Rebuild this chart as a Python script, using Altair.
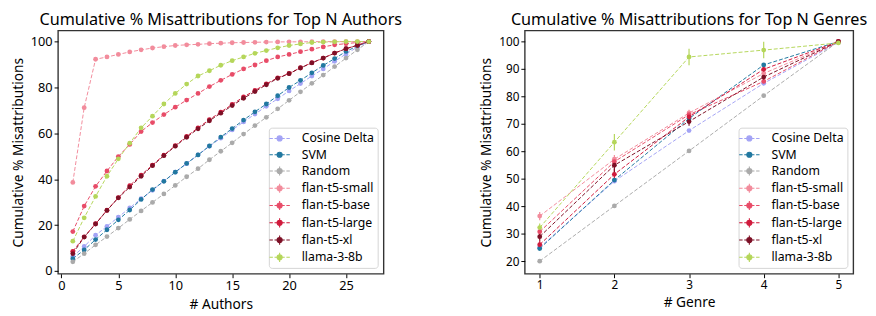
import altair as alt
import pandas as pd

models = ["Cosine Delta", "SVM", "Random", "flan-t5-small", "flan-t5-base",
          "flan-t5-large", "flan-t5-xl", "llama-3-8b"]
colors = ["#a3a3f5", "#2178a0", "#aaaaaa", "#f28c9c", "#e84c68",
          "#d01a3c", "#7d1026", "#b5d65a"]
errbar_models = ["Random", "flan-t5-small", "flan-t5-base", "flan-t5-large",
                 "flan-t5-xl", "llama-3-8b"]

authors_n = list(range(1, 28))
authors_cosine = [6.3, 10.7, 15.6, 19.5, 23.5, 27.5, 31.5, 35.2, 39.2, 43.1, 46.8, 50.6, 54.4, 57.9,
                  61.5, 65.0, 68.4, 71.8, 75.1, 78.5, 81.7, 85.0, 88.1, 91.4, 94.6, 97.6, 100.0]
authors_svm = [5.4, 9.2, 13.7, 18.0, 22.3, 26.6, 31.2, 35.5, 39.1, 43.1, 46.9, 50.6, 54.5, 58.4,
               62.1, 65.8, 69.4, 72.8, 76.4, 80.0, 83.1, 86.4, 89.6, 92.6, 95.7, 98.1, 100.0]
authors_random = [4.0, 7.6, 11.4, 15.0, 18.7, 22.5, 26.2, 29.9, 33.6, 37.3, 41.1, 44.6, 48.5, 52.2,
                  55.9, 59.7, 63.4, 67.0, 70.7, 74.4, 78.1, 81.8, 85.4, 89.1, 92.8, 96.4, 100.0]
authors_small = [38.6, 71.2, 92.3, 93.3, 94.4, 95.5, 96.4, 97.2, 97.8, 98.3, 98.6, 98.8, 99.1, 99.3,
                 99.5, 99.6, 99.7, 99.8, 99.85, 99.9, 99.9, 99.95, 100.0, 100.0, 100.0, 100.0, 100.0]
authors_base = [17.2, 28.3, 36.9, 43.6, 49.9, 55.2, 60.8, 64.7, 68.2, 71.4, 74.5, 77.4, 80.4, 83.1,
                85.7, 88.1, 89.8, 91.7, 93.3, 94.4, 95.6, 96.7, 97.7, 98.6, 99.1, 99.6, 100.0]
authors_large = [8.6, 14.9, 20.6, 26.5, 32.0, 37.2, 41.8, 46.2, 50.5, 54.6, 58.7, 62.4, 66.0, 69.3,
                 72.6, 75.9, 78.7, 81.6, 84.2, 86.1, 88.6, 90.8, 92.8, 95.0, 96.9, 98.4, 100.0]
authors_xl = [7.6, 14.8, 20.5, 26.4, 31.9, 36.6, 41.3, 45.9, 50.3, 54.4, 58.3, 62.0, 65.5, 68.8,
              72.1, 75.3, 78.2, 81.2, 84.0, 86.0, 88.5, 90.7, 92.8, 95.0, 96.9, 98.4, 100.0]
authors_llama = [13.0, 23.2, 32.5, 41.3, 48.9, 55.7, 62.4, 67.5, 72.8, 77.4, 81.5, 85.0, 87.3, 89.7,
                 91.7, 93.3, 94.9, 96.1, 97.3, 98.3, 99.0, 99.6, 99.8, 99.9, 100.0, 100.0, 100.0]

genre_n = [1, 2, 3, 4, 5]
genre_cosine = [25.1, 49.2, 67.6, 84.8, 99.7]
genre_svm = [24.7, 49.6, 72.0, 91.5, 100.0]
genre_random = [20.1, 40.2, 60.2, 80.3, 100.0]
genre_small = [36.5, 57.2, 74.0, 88.4, 100.0]
genre_base = [30.8, 56.3, 73.4, 85.5, 100.0]
genre_large = [26.1, 51.7, 72.6, 89.9, 100.0]
genre_xl = [29.0, 55.0, 70.9, 87.1, 100.0]
genre_llama = [32.3, 63.4, 94.4, 96.9, 99.5]

genre_err_cosine = [0, 0, 0, 0, 0]
genre_err_svm = [0, 0, 0, 0, 0]
genre_err_random = [0.5, 0.6, 0.6, 0.6, 0.2]
genre_err_small = [1.5, 1.5, 1.2, 1.2, 0.2]
genre_err_base = [1.2, 1.2, 1.0, 1.0, 0.2]
genre_err_large = [1.5, 2.0, 1.2, 1.2, 0.2]
genre_err_xl = [1.5, 3.0, 1.5, 1.5, 0.2]
genre_err_llama = [1.5, 3.0, 3.0, 3.0, 0.5]

authors_series = [authors_cosine, authors_svm, authors_random, authors_small,
                  authors_base, authors_large, authors_xl, authors_llama]
genre_series = [genre_cosine, genre_svm, genre_random, genre_small,
                genre_base, genre_large, genre_xl, genre_llama]
genre_errs = [genre_err_cosine, genre_err_svm, genre_err_random, genre_err_small,
              genre_err_base, genre_err_large, genre_err_xl, genre_err_llama]

rows = []
for m, vals in zip(models, authors_series):
    for n, v in zip(authors_n, vals):
        rows.append({"model": m, "n": n, "v": v})
df_a = pd.DataFrame(rows)

rows = []
for m, vals, errs in zip(models, genre_series, genre_errs):
    for n, v, e in zip(genre_n, vals, errs):
        rows.append({"model": m, "n": n, "v": v, "lo": v - e, "hi": v + e, "e": e})
df_g = pd.DataFrame(rows)

FONT = "Noto Sans"

plain = ("M-1.6,0L-1.06,0M-0.8,0L-0.26,0M0.26,0L0.8,0M1.06,0L1.6,0"
         "M0.4,0A0.4,0.4,0,1,1,-0.4,0A0.4,0.4,0,1,1,0.4,0Z")
witherr = plain + "M0,-0.72L0,0.72"
shapes = [witherr if m in errbar_models else plain for m in models]


def make_legend():
    return alt.Legend(
        title=None, orient="bottom-right", offset=6,
        fillColor="white", strokeColor="#d4d4d4", cornerRadius=3, padding=3.5,
        labelFont=FONT, labelFontSize=12.5, labelColor="black", labelOffset=15,
        symbolSize=169, symbolStrokeWidth=1.1, symbolOpacity=1, rowPadding=2.6,
    )


def panel(df, xfield_title, xdom, xticks, ydom, yticks, title, w, h, with_err, lab_fs):
    leg = make_legend()
    cscale = alt.Scale(domain=models, range=colors)
    color = alt.Color("model:N", scale=cscale, legend=leg)
    xscale = alt.Scale(domain=xdom, nice=False, zero=False)
    yscale = alt.Scale(domain=ydom, nice=False, zero=False)
    xaxis = alt.Axis(values=xticks, title=xfield_title, format="d", labelFontSize=lab_fs)
    yaxis = alt.Axis(values=yticks, title="Cumulative % Misattributions", labelFontSize=lab_fs)
    x = alt.X("n:Q", scale=xscale, axis=xaxis)
    y = alt.Y("v:Q", scale=yscale, axis=yaxis)
    base = alt.Chart(df)
    lines = base.mark_line(strokeDash=[4, 2], strokeWidth=1, clip=True).encode(
        x=x, y=y, color=color, detail="model:N")
    pts = base.mark_circle(size=24, opacity=1, clip=True).encode(
        x=x, y=y, color=color)
    ghost = base.transform_filter("datum.n < -1000").mark_point(filled=True).encode(
        x=x, y=y,
        fill=alt.Fill("model:N", scale=cscale, legend=leg),
        stroke=alt.Stroke("model:N", scale=cscale, legend=leg),
        shape=alt.Shape("model:N", scale=alt.Scale(domain=models, range=shapes), legend=leg),
    )
    layers = [lines]
    if with_err:
        err = base.transform_filter("datum.e > 0").mark_rule(strokeWidth=1.2).encode(
            x=x, y=alt.Y("lo:Q", scale=yscale, axis=yaxis), y2="hi:Q", color=color)
        layers.append(err)
    layers += [pts, ghost]
    return alt.layer(*layers).properties(
        width=w, height=h,
        title=alt.Title(title, anchor="middle", frame="group", fontSize=16.5,
                        fontWeight="normal", font=FONT, color="black", offset=2),
    )


left = panel(df_a, "# Authors", [-0.3, 28.3], [0, 5, 10, 15, 20, 25],
             [-1.2, 104.8], [0, 20, 40, 60, 80, 100],
             "Cumulative % Misattributions for Top N Authors", 332, 248, False, 13)
right = panel(df_g, "# Genre", [0.8, 5.2], [1, 2, 3, 4, 5],
              [15.5, 104], [20, 30, 40, 50, 60, 70, 80, 90, 100],
              "Cumulative % Misattributions for Top N Genres", 335, 248, True, 12)

chart = alt.hconcat(left, right, spacing=144, bounds="flush").resolve_scale(
    color="independent", fill="independent", stroke="independent", shape="independent"
).resolve_legend(
    color="independent", fill="independent", stroke="independent", shape="independent"
).properties(
    padding={"left": 2, "top": 0, "right": 0, "bottom": 0}
).configure_view(stroke="#333333", strokeWidth=1.4).configure_axis(
    grid=False, domain=False, labelFont=FONT, titleFont=FONT, labelFontSize=12,
    titleFontSize=14, titleFontWeight="normal", labelColor="black", titleColor="black",
    tickColor="black", tickSize=4, labelPadding=2, titlePadding=5,
)

chart.save("out.html", embed_options={"renderer": "svg", "actions": False})
